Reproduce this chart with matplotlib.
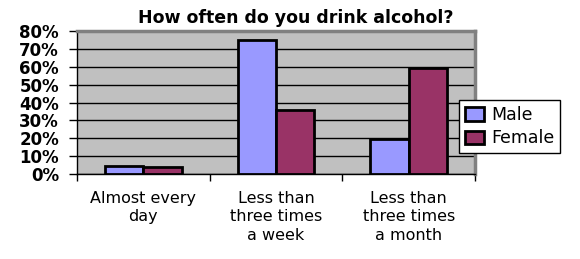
import numpy as np
import matplotlib.pyplot as plt
from matplotlib.ticker import FixedLocator, PercentFormatter

categories = ['Almost every\nday', 'Less than\nthree times\na week', 'Less than\nthree times\na month']
male = [4.5, 75, 19.5]
female = [3.8, 36, 59.5]

male_color = '#9999FF'
female_color = '#993366'

fig = plt.figure(figsize=(5.8, 2.59), dpi=100)
ax = fig.add_axes([77 / 580, 1 - 174 / 259, 398 / 580, 143 / 259])
ax.set_facecolor('#C0C0C0')

x = np.arange(len(categories))
w = 0.29
ax.bar(x - w / 2, male, w, color=male_color, edgecolor='black', linewidth=2, label='Male', zorder=3)
ax.bar(x + w / 2, female, w, color=female_color, edgecolor='black', linewidth=2, label='Female', zorder=3)

ax.set_xlim(-0.5, len(categories) - 0.5)
ax.set_ylim(0, 80)
ax.set_yticks(range(0, 81, 10))
ax.yaxis.set_major_formatter(PercentFormatter(decimals=0))
ax.grid(axis='y', color='black', linewidth=1, zorder=1)
ax.set_axisbelow(True)

# category labels centred, tick marks between categories
ax.set_xticks(x)
ax.set_xticklabels(categories, fontsize=11.5, linespacing=1.3)
ax.tick_params(axis='x', which='major', length=0, pad=12)
ax.xaxis.set_minor_locator(FixedLocator(np.arange(-0.5, len(categories), 1)))
ax.tick_params(axis='x', which='minor', length=5, width=1, color='black')
ax.tick_params(axis='y', length=6, width=1, color='black', pad=7)
for lab in ax.get_yticklabels():
    lab.set_fontsize(12)
    lab.set_fontweight('bold')

for s in ['left', 'bottom']:
    ax.spines[s].set_color('black')
    ax.spines[s].set_linewidth(1)
for s in ['top', 'right']:
    ax.spines[s].set_color('#808080')
    ax.spines[s].set_linewidth(2.5)

fig.suptitle('How often do you drink alcohol?', x=0.51, y=0.965, fontsize=12.5, fontweight='bold')

leg = ax.legend(loc='upper left', bbox_to_anchor=(459 / 580, 1 - 100 / 259), bbox_transform=fig.transFigure,
                borderaxespad=0, fontsize=12.5, frameon=True, fancybox=False, edgecolor='black', framealpha=1,
                handlelength=1.1, handleheight=0.8, handletextpad=0.4, borderpad=0.35, labelspacing=0.3)
leg.get_frame().set_linewidth(1)
leg.set_zorder(10)
for h in leg.legend_handles:
    h.set_linewidth(2)

fig.savefig('out.png', dpi=100)
